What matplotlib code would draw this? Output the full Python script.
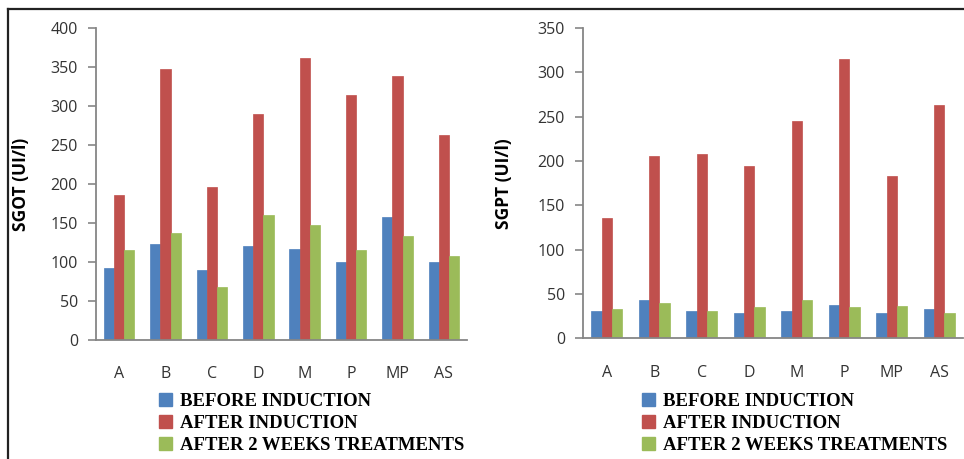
import matplotlib
matplotlib.use("Agg")
import matplotlib.pyplot as plt
from matplotlib.lines import Line2D
from matplotlib.patches import Patch
import numpy as np

groups = ["A", "B", "C", "D", "M", "P", "MP", "AS"]
series_names = ["BEFORE INDUCTION", "AFTER INDUCTION", "AFTER 2 WEEKS TREATMENTS"]
colors = ["#4F81BD", "#C0504D", "#9BBB59"]

sgot_before = [92, 123, 90, 121, 117, 100, 158, 100]
sgot_after = [186, 348, 196, 290, 362, 314, 338, 263]
sgot_treated = [115, 137, 68, 160, 148, 115, 133, 108]

sgpt_before = [31, 43, 31, 29, 31, 38, 29, 33]
sgpt_after = [136, 206, 208, 194, 245, 315, 183, 263]
sgpt_treated = [33, 40, 31, 35, 43, 35, 36, 29]

W, H = 964, 459
fig = plt.figure(figsize=(W / 100, H / 100), dpi=100)

tick_font = "Open Sans"
axis_col = "#868686"


def make_chart(rect, data, ymax, ylabel, label_x):
    ax = fig.add_axes(rect)
    x = np.arange(len(groups))
    w = 0.22
    for i, vals in enumerate(data):
        ax.bar(x + (i - 1) * w, vals, width=w, color=colors[i],
               edgecolor=colors[i], linewidth=0.5)
    ax.set_xlim(-0.5, len(groups) - 0.5)
    ax.set_ylim(0, ymax)
    ax.set_yticks(np.arange(0, ymax + 1, 50))
    ax.set_xticks(x)
    ax.set_xticklabels(groups)
    for s in ["top", "right"]:
        ax.spines[s].set_visible(False)
    for s in ["left", "bottom"]:
        ax.spines[s].set_color(axis_col)
        ax.spines[s].set_linewidth(1.3)
    ax.tick_params(axis="y", length=6, width=1.2, color=axis_col, pad=7,
                   labelsize=11.5, labelcolor="#333333")
    ax.tick_params(axis="x", length=0, pad=19, labelsize=11.5,
                   labelcolor="#333333")
    for lab in ax.get_xticklabels() + ax.get_yticklabels():
        lab.set_fontfamily(tick_font)
    ax.set_ylabel(ylabel, fontsize=12.5, fontweight="bold", family=tick_font)
    ax.yaxis.set_label_coords(label_x, 0.5)
    return ax


ax1 = make_chart([96 / W, 1 - 340 / H, 371 / W, 312 / H],
                 [sgot_before, sgot_after, sgot_treated], 400,
                 "SGOT (UI/l)", -0.178)
ax2 = make_chart([583 / W, 1 - 338.3 / H, 380 / W, 310.3 / H],
                 [sgpt_before, sgpt_after, sgpt_treated], 350,
                 "SGPT (UI/l)", -0.184)

handles = [Patch(facecolor=c, edgecolor=c) for c in colors]
for lx in [159, 642]:
    fig.legend(handles, series_names, loc="upper left",
               bbox_to_anchor=(lx / W, 1 - 393 / H), frameon=False,
               borderpad=0, borderaxespad=0, handlelength=0.68,
               handleheight=0.68, handletextpad=0.45, labelspacing=0.26,
               prop={"family": "Liberation Serif", "weight": "bold",
                     "size": 13.5})

# frame lines at the top and left
fig.add_artist(Line2D([8 / W, 1], [1 - 9 / H, 1 - 9 / H], color="#222222",
                      lw=1.6, transform=fig.transFigure))
fig.add_artist(Line2D([8 / W, 8 / W], [0, 1 - 9 / H], color="#222222",
                      lw=1.6, transform=fig.transFigure))

fig.savefig("out.png", dpi=100)
